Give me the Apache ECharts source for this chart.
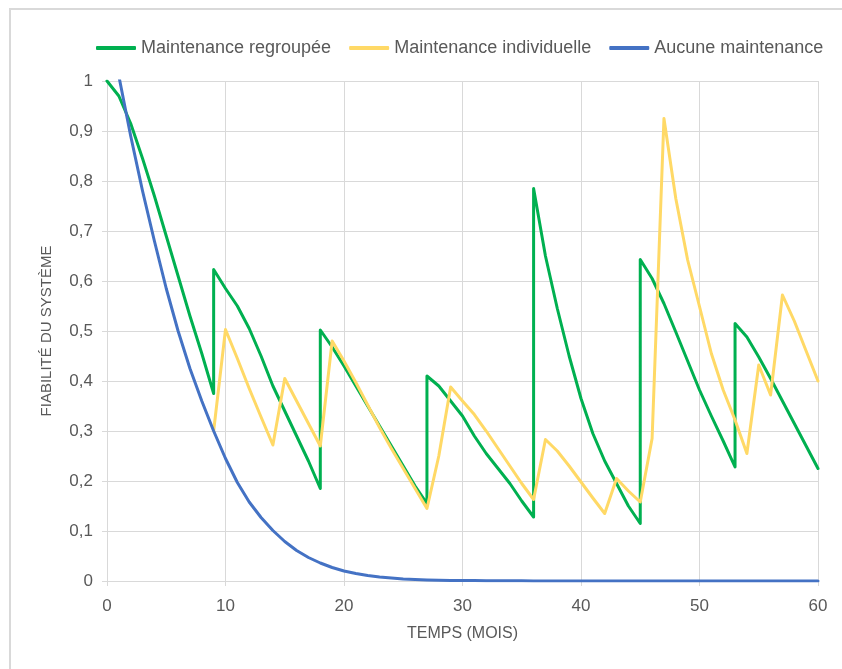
<!DOCTYPE html>
<html>
<head>
<meta charset="utf-8">
<script src="https://cdn.jsdelivr.net/npm/echarts@6/dist/echarts.min.js"></script>
<style>
html,body{margin:0;padding:0;background:#fff;}
#chart{width:842px;height:669px;}
</style>
</head>
<body>
<div id="chart"></div>
<script>
// ---- Data ----
const seriesNames = ['Maintenance regroupée', 'Maintenance individuelle', 'Aucune maintenance'];

// Maintenance regroupée : months (repeated month = vertical jump after maintenance)
const groupedMonths = [
  0,1,2,3,4,5,6,7,8,9,
  9,10,11,12,13,14,15,16,17,18,
  18,19,20,21,22,23,24,25,26,27,
  27,28,29,30,31,32,33,34,35,36,
  36,37,38,39,40,41,42,43,44,45,
  45,46,47,48,49,50,51,52,53,
  53,54,55,56,57,58,59,60
];
const groupedValues = [
  1.0,0.97,0.915,0.845,0.77,0.69,0.61,0.53,0.455,0.375,
  0.623,0.585,0.55,0.505,0.45,0.39,0.34,0.29,0.24,0.185,
  0.502,0.468,0.43,0.39,0.35,0.31,0.27,0.23,0.19,0.155,
  0.41,0.39,0.36,0.33,0.29,0.255,0.225,0.195,0.16,0.128,
  0.785,0.65,0.545,0.45,0.365,0.295,0.24,0.195,0.15,0.115,
  0.643,0.605,0.555,0.498,0.44,0.382,0.33,0.28,0.228,
  0.515,0.488,0.448,0.405,0.36,0.315,0.27,0.225
];

// Maintenance individuelle
const individualMonths = [
  9,10,11,12,13,14,15,16,17,18,19,20,21,22,23,24,25,26,27,28,29,30,31,32,33,34,
  35,36,37,38,39,40,41,42,43,44,45,46,47,48,49,50,51,52,53,54,55,56,57,58,59,60
];
const individualValues = [
  0.3,0.503,0.445,0.385,0.328,0.272,0.405,0.36,0.315,0.27,0.48,0.44,0.397,0.352,0.307,0.265,0.225,0.185,0.145,0.25,0.388,0.36,0.333,0.3,0.265,0.23,
  0.195,0.163,0.283,0.26,0.23,0.198,0.166,0.135,0.205,0.18,0.158,0.285,0.925,0.765,0.642,0.549,0.455,0.382,0.322,0.255,0.432,0.372,0.572,0.52,0.46,0.4
];

// Aucune maintenance
const noneMonths = [
  1,2,3,4,5,6,7,8,9,10,11,12,13,14,15,16,17,18,19,20,21,22,23,24,25,26,27,28,29,30,
  31,32,33,34,35,36,37,38,39,40,41,42,43,44,45,46,47,48,49,50,51,52,53,54,55,56,57,58,59,60
];
const noneValues = [
  1.01,0.89,0.78,0.68,0.585,0.5,0.425,0.36,0.3,0.245,0.197,0.158,0.127,0.101,0.079,0.061,0.047,0.036,0.027,0.02,
  0.015,0.011,0.008,0.006,0.004,0.003,0.002,0.0015,0.001,0.001,
  0.0008,0.0006,0.0005,0.0004,0.0003,0.0002,0.0002,0.0001,0.0001,0.0001,
  0,0,0,0,0,0,0,0,0,0,0,0,0,0,0,0,0,0,0,0
];

const xTicks = [0,10,20,30,40,50,60];
const yTicks = [0,0.1,0.2,0.3,0.4,0.5,0.6,0.7,0.8,0.9,1];

const colors = ['#00B050', '#FFD966', '#4472C4'];

// ---- Chart ----
const zip = (xs, ys) => xs.map((x, i) => [x, ys[i]]);
const FONT = "'Liberation Sans', Arial, sans-serif";
const GRID_COLOR = '#d9d9d9';
const TEXT_COLOR = '#595959';

const chart = echarts.init(document.getElementById('chart'), null, {renderer: 'canvas'});

function lineSeries(name, data, color) {
  return {
    name: name,
    type: 'line',
    data: data,
    showSymbol: false,
    symbol: 'none',
    clip: true,
    animation: false,
    lineStyle: {color: color, width: 3, cap: 'round', join: 'round'},
    itemStyle: {color: color}
  };
}

chart.setOption({
  animation: false,
  color: colors,
  graphic: [{
    type: 'rect',
    shape: {x: 10, y: 9, width: 900, height: 700},
    style: {fill: 'none', stroke: '#d9d9d9', lineWidth: 2},
    silent: true,
    z: -1
  }],
  legend: {
    left: 91,
    top: 34,
    icon: 'roundRect',
    itemWidth: 40,
    itemHeight: 4,
    itemGap: 18,
    textStyle: {fontFamily: FONT, fontSize: 18, color: TEXT_COLOR},
    data: seriesNames
  },
  grid: {left: 107, right: 24, top: 81, bottom: 88, containLabel: false},
  xAxis: {
    type: 'value',
    min: xTicks[0],
    max: xTicks[xTicks.length - 1],
    interval: 10,
    name: 'TEMPS (MOIS)',
    nameLocation: 'middle',
    nameGap: 45,
    nameTextStyle: {fontFamily: FONT, fontSize: 16, color: TEXT_COLOR},
    axisLine: {show: true, lineStyle: {color: GRID_COLOR, width: 1}},
    axisTick: {show: true, length: 5, lineStyle: {color: GRID_COLOR}},
    axisLabel: {fontFamily: FONT, fontSize: 17, color: TEXT_COLOR, margin: 17},
    splitLine: {show: true, lineStyle: {color: GRID_COLOR, width: 1}}
  },
  yAxis: {
    type: 'value',
    min: yTicks[0],
    max: yTicks[yTicks.length - 1],
    interval: 0.1,
    name: 'FIABILITÉ DU SYSTÈME',
    nameLocation: 'middle',
    nameGap: 53,
    nameTextStyle: {fontFamily: FONT, fontSize: 15, color: TEXT_COLOR},
    axisLine: {show: true, lineStyle: {color: GRID_COLOR, width: 1}},
    axisTick: {show: true, length: 5, lineStyle: {color: GRID_COLOR}},
    axisLabel: {
      fontFamily: FONT, fontSize: 17, color: TEXT_COLOR, margin: 14,
      formatter: v => String(Math.round(v * 10) / 10).replace('.', ',')
    },
    splitLine: {show: true, lineStyle: {color: GRID_COLOR, width: 1}}
  },
  series: [
    lineSeries(seriesNames[0], zip(groupedMonths, groupedValues), colors[0]),
    lineSeries(seriesNames[1], zip(individualMonths, individualValues), colors[1]),
    lineSeries(seriesNames[2], zip(noneMonths, noneValues), colors[2])
  ]
});
</script>
</body>
</html>
